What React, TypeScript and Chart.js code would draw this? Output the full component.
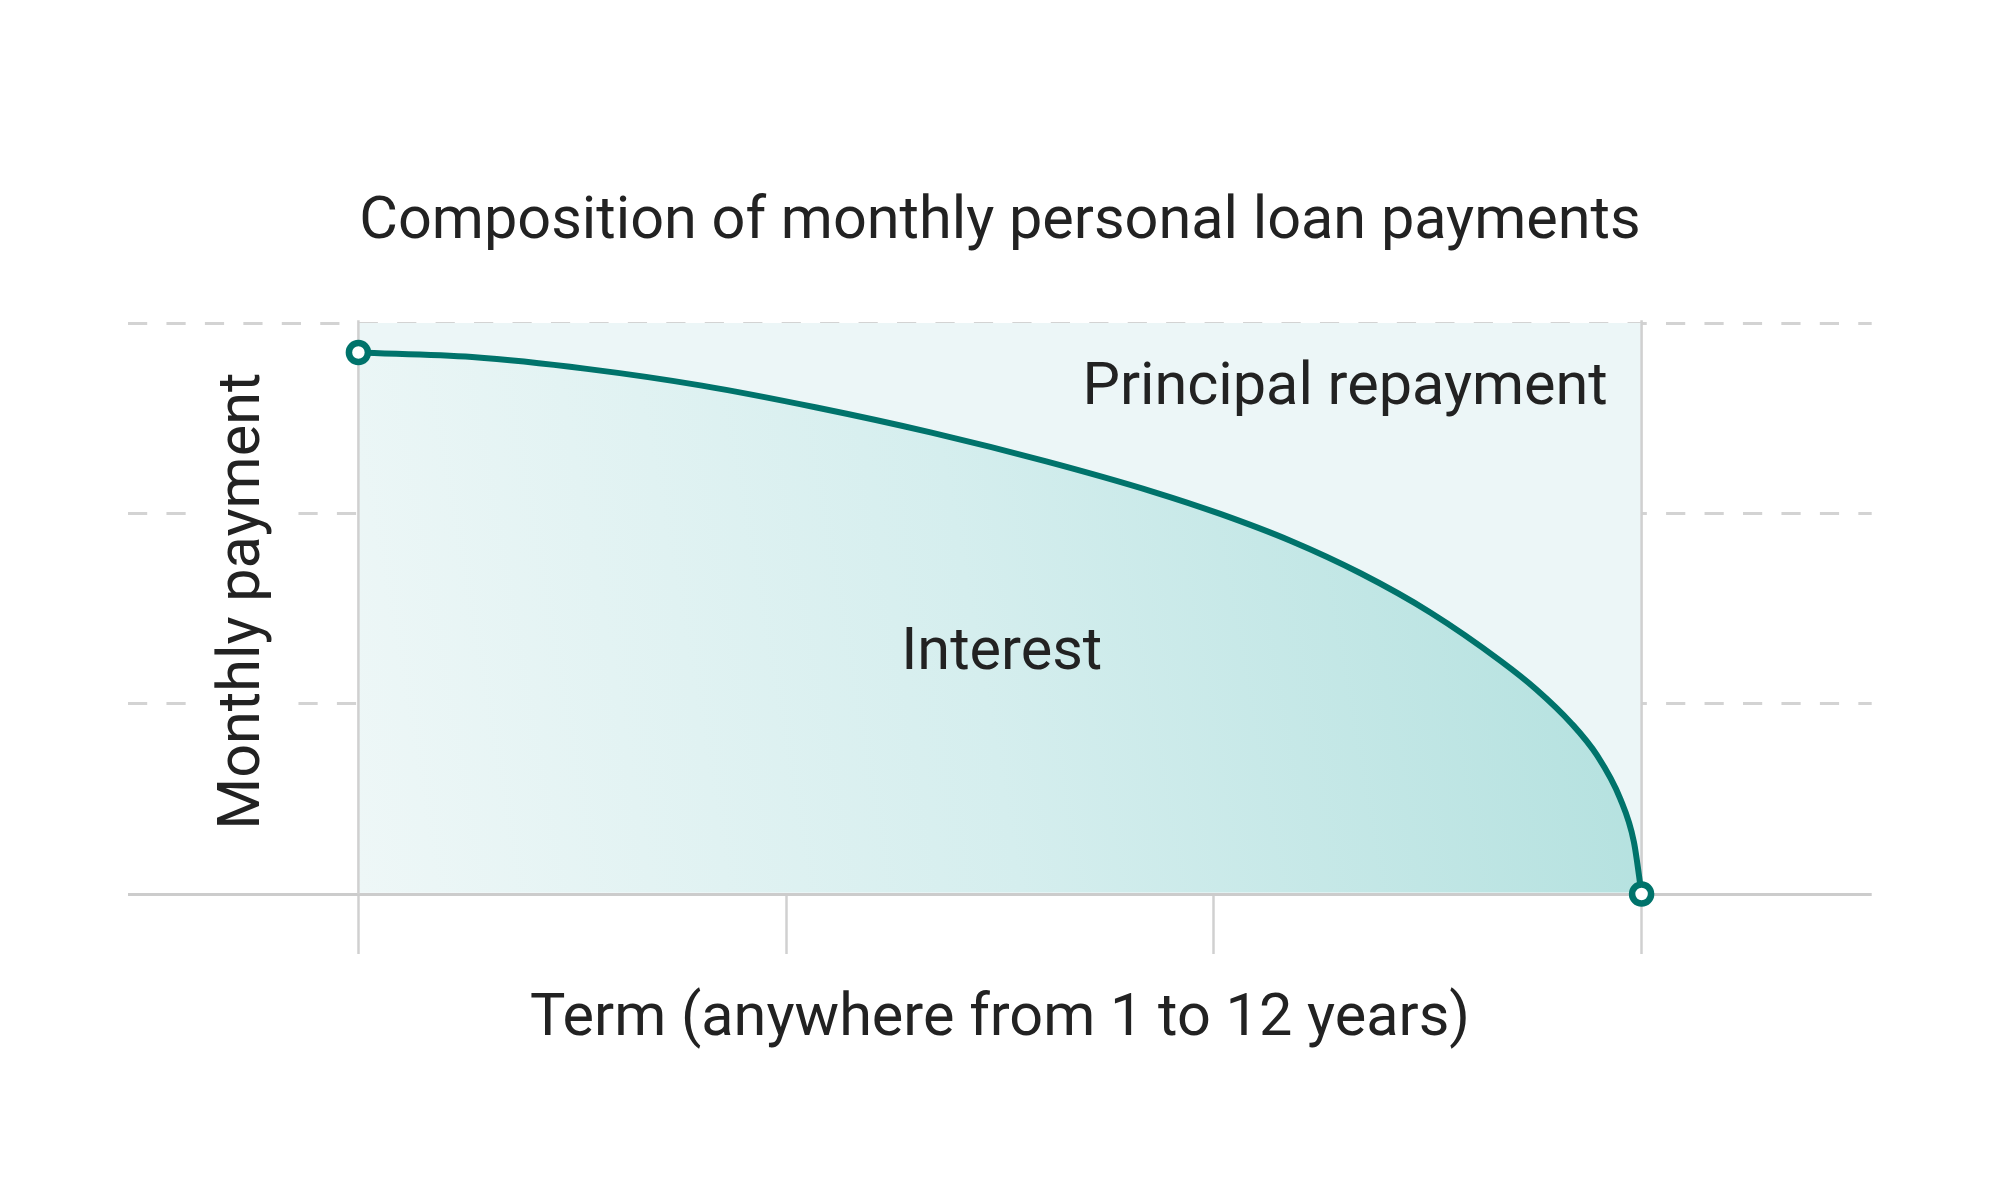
import React, { useEffect, useRef } from 'react';
import { Chart, registerables } from 'chart.js';

Chart.register(...registerables);

// ---------- data ----------
const termX = [0, 0.266, 0.534, 0.803, 1.071, 1.34, 1.608, 1.86, 2.015, 2.179, 2.343, 2.507, 2.671, 2.754, 2.835, 2.896, 2.95, 2.982, 3];
const interestY = [2.845, 2.821, 2.759, 2.671, 2.556, 2.424, 2.273, 2.112, 1.997, 1.856, 1.685, 1.478, 1.224, 1.075, 0.899, 0.728, 0.501, 0.274, 0];
const principalX = [0, 0, 3, 3];
const principalY = [0, 3.015, 3.015, 0];
const xTicks = [0, 1, 2, 3];
const yTicks = [0, 1, 2, 3];

const titleText = 'Composition of monthly personal loan payments';
const xTitle = 'Term (anywhere from 1 to 12 years)';
const yTitle = ' Monthly payment';
const areaLabels = ['Principal repayment', 'Interest'];
const areaLabelX = [2.921, 1.504];
const areaLabelY = [2.652, 1.259];
const areaLabelAlign = ['right', 'center'];

// ---------- styles ----------
const FONT = 'Roboto';
const FONT_SIZE = 59.4;
const TEXT = '#222222';
const TEAL = '#00736b';
const PRINCIPAL_BG = '#ecf6f7';
const DASH_COLOR = '#d3d3d3';
const BASE_COLOR = '#cccccc';
const EDGE_COLOR = '#d0d0d0';
const FILL_FLOOR = 0.008;
const DASH = 19.2;
const GAP = 19.25;
const regularDash = [DASH, GAP];
const brokenDash = [DASH, GAP, DASH, 112.8, DASH, GAP, DASH, 2.7].concat(
  Array.from({ length: 42 }, () => [DASH, GAP]).flat()
);

const areaLabelPlugin = {
  id: 'areaLabels',
  afterDatasetsDraw(chart: any) {
    const { ctx } = chart;
    const xs = chart.scales.x;
    const ys = chart.scales.y;
    ctx.save();
    ctx.font = `400 ${FONT_SIZE}px ${FONT}`;
    ctx.fillStyle = TEXT;
    ctx.textBaseline = 'middle';
    areaLabels.forEach((t, i) => {
      ctx.textAlign = areaLabelAlign[i] as CanvasTextAlign;
      ctx.fillText(t, xs.getPixelForValue(areaLabelX[i]), ys.getPixelForValue(areaLabelY[i]));
    });
    ctx.restore();
  },
};

export default function App() {
  const canvasRef = useRef<HTMLCanvasElement | null>(null);

  useEffect(() => {
    const canvas = canvasRef.current;
    if (!canvas) return;
    Chart.defaults.font.family = FONT;

    const curve = termX.map((x, i) => ({ x, y: interestY[i] }));
    const rect = principalX.map((x, i) => ({ x, y: principalY[i] }));
    const last = curve.length - 1;

    const chart = new Chart(canvas, {
      type: 'line',
      data: {
        datasets: [
          {
            label: 'Principal repayment',
            data: rect,
            backgroundColor: PRINCIPAL_BG,
            borderColor: 'rgba(0,0,0,0)',
            borderWidth: 0,
            pointRadius: 0,
            tension: 0,
            fill: { value: FILL_FLOOR } as any,
            clip: false as any,
            order: 4,
          },
          {
            label: 'Interest area',
            data: curve,
            backgroundColor: (c: any) => {
              const ch = c.chart;
              if (!ch.chartArea) return PRINCIPAL_BG;
              const xs = ch.scales.x;
              const ys = ch.scales.y;
              const g = ch.ctx.createLinearGradient(
                xs.getPixelForValue(0), ys.getPixelForValue(0),
                xs.getPixelForValue(3), ys.getPixelForValue(1.2)
              );
              g.addColorStop(0, '#eef7f7');
              g.addColorStop(0.5, '#d5eeee');
              g.addColorStop(1, '#b4e1df');
              return g;
            },
            borderColor: 'rgba(0,0,0,0)',
            borderWidth: 0,
            pointRadius: 0,
            cubicInterpolationMode: 'monotone',
            fill: { value: FILL_FLOOR } as any,
            order: 3,
          },
          {
            label: 'Edges',
            data: rect,
            borderColor: EDGE_COLOR,
            borderWidth: 2.5,
            segment: {
              borderColor: (s: any) => (s.p0DataIndex === 1 ? 'rgba(0,0,0,0)' : EDGE_COLOR),
            },
            pointRadius: 0,
            tension: 0,
            fill: false,
            clip: false as any,
            order: 2,
          },
          {
            label: 'Interest',
            data: curve,
            borderColor: TEAL,
            borderWidth: 6,
            cubicInterpolationMode: 'monotone',
            fill: false,
            pointRadius: (c: any) => (c.dataIndex === 0 || c.dataIndex === last ? 9.5 : 0),
            pointBackgroundColor: '#ffffff',
            pointBorderColor: TEAL,
            pointBorderWidth: 6.5,
            clip: false as any,
            order: 1,
          },
        ],
      },
      options: {
        responsive: false,
        animation: false,
        events: [],
        layout: { padding: { left: 128.3, right: 128.3, top: 0, bottom: 144.6 } },
        plugins: {
          legend: { display: false },
          tooltip: { enabled: false },
          title: {
            display: true,
            text: titleText,
            color: TEXT,
            font: { family: FONT, size: FONT_SIZE, weight: 'normal' },
            padding: { top: 187.36, bottom: 64.36 },
          },
        },
        scales: {
          x: {
            type: 'linear',
            min: -0.538,
            max: 3.538,
            afterBuildTicks: (axis: any) => {
              axis.ticks = xTicks.map((v) => ({ value: v }));
            },
            ticks: { display: false },
            grid: {
              drawOnChartArea: false,
              drawTicks: true,
              tickLength: 60,
              tickColor: EDGE_COLOR,
              tickWidth: 2.5,
              color: EDGE_COLOR,
            },
            border: { display: false },
            title: {
              display: true,
              text: xTitle,
              color: TEXT,
              font: { family: FONT, size: FONT_SIZE, weight: 'normal' },
              padding: { top: 30.12, bottom: 0 },
            },
          },
          y: {
            type: 'linear',
            min: 0,
            max: 3,
            afterBuildTicks: (axis: any) => {
              axis.ticks = yTicks.map((v) => ({ value: v }));
            },
            ticks: { display: false },
            grid: {
              drawTicks: false,
              color: (c: any) => (c.tick && c.tick.value === 0 ? BASE_COLOR : DASH_COLOR),
              lineWidth: 3,
            },
            border: {
              display: false,
              dash: (c: any) => {
                const v = c.tick ? c.tick.value : 0;
                if (v === 0) return [];
                if (v === 3) return regularDash;
                return brokenDash;
              },
            } as any,
            title: {
              display: true,
              text: yTitle,
              color: TEXT,
              font: { family: FONT, size: FONT_SIZE, weight: 'normal' },
              padding: { top: 80.06, bottom: -151.34 },
            },
          },
        },
      } as any,
      plugins: [areaLabelPlugin],
    });

    return () => chart.destroy();
  }, []);

  return (
    <div style={{ position: 'fixed', left: 0, top: 0, width: 2000, height: 1200, background: '#ffffff' }}>
      <canvas ref={canvasRef} width={2000} height={1200} style={{ width: 2000, height: 1200, display: 'block' }} />
    </div>
  );
}
